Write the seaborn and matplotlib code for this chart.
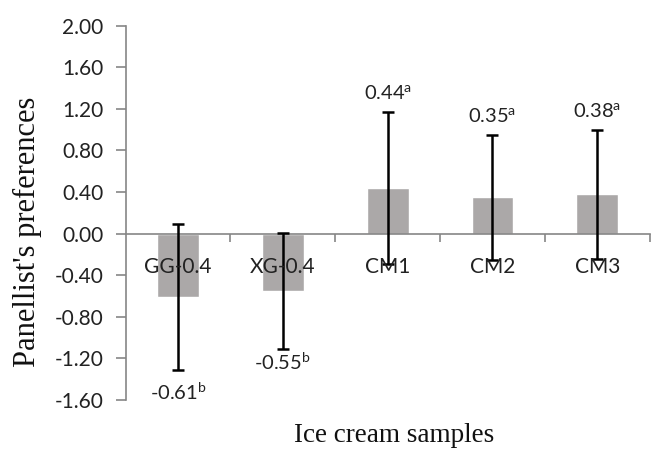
import numpy as np
import pandas as pd
import matplotlib
matplotlib.use("Agg")
import matplotlib.pyplot as plt
import seaborn as sns
from matplotlib.ticker import FixedLocator

# Data
samples = ["GG-0.4", "XG-0.4", "CM1", "CM2", "CM3"]
means = [-0.61, -0.55, 0.44, 0.35, 0.38]
errors = [0.70, 0.56, 0.73, 0.60, 0.62]
letters = ["b", "b", "a", "a", "a"]
y_ticks = [-1.6, -1.2, -0.8, -0.4, 0.0, 0.4, 0.8, 1.2, 1.6, 2.0]

df = pd.DataFrame({"sample": samples, "pref": means})

sns.set_style("white")
plt.rcParams["font.family"] = ["Lato", "DejaVu Sans"]
plt.rcParams["mathtext.fontset"] = "custom"
plt.rcParams["mathtext.rm"] = "Lato"

axis_grey = "#868686"
bar_grey = "#aba8a8"
text_col = "#222222"

fig = plt.figure(figsize=(6.51, 4.5), dpi=100)
ax = fig.add_axes([0.193, 0.111, 0.805, 0.832])

sns.barplot(data=df, x="sample", y="pref", color=bar_grey, saturation=1,
            width=0.4, errorbar=None, ax=ax, zorder=1)
xs = np.arange(len(samples))
ax.errorbar(xs, means, yerr=errors, fmt="none", ecolor="black",
            elinewidth=1.8, capsize=4, capthick=1.8, zorder=4)

# value labels with significance letters
label_offsets = [-16, -9, 13, 13, 13]  # points
for x, m, e, l, off in zip(xs, means, errors, letters, label_offsets):
    y = m + e if m > 0 else m - e
    ax.annotate(f"{m:.2f}$^{{\\mathrm{{{l}}}}}$", (x, y), xytext=(0, off),
                textcoords="offset points", ha="center", va="center",
                fontsize=14.5, color=text_col)

ax.set_ylim(-1.6, 2.0)
ax.set_xlim(-0.5, len(samples) - 0.5)
ax.set_yticks(y_ticks)
ax.set_yticklabels([f"{v:.2f}" for v in y_ticks])

# category axis crossing at zero, ticks between categories
ax.set_axisbelow(False)
ax.spines["bottom"].set_position(("data", 0))
ax.spines["top"].set_visible(False)
ax.spines["right"].set_visible(False)
for s in ["left", "bottom"]:
    ax.spines[s].set_color(axis_grey)
    ax.spines[s].set_linewidth(1.2)
    ax.spines[s].set_zorder(3)
ax.xaxis.set_zorder(5)
ax.xaxis.set_minor_locator(FixedLocator(np.arange(0.5, len(samples), 1.0)))
ax.tick_params(axis="x", which="major", bottom=True, length=0, pad=17,
               labelsize=15, labelcolor=text_col)
ax.tick_params(axis="x", which="minor", bottom=True, length=6, width=1.2,
               color=axis_grey, direction="out")
ax.tick_params(axis="y", left=True, length=7, width=1.2, color=axis_grey,
               direction="out", pad=9, labelsize=15, labelcolor=text_col)

ax.set_xlabel("")
ax.set_ylabel("Panellist's preferences", family="Liberation Serif",
              fontsize=22, color="#111111")
ax.yaxis.set_label_coords(-0.16, 0.45)
fig.text(0.606, 0.004, "Ice cream samples", family="Liberation Serif",
         fontsize=19.5, color="#111111", ha="center", va="bottom")

fig.savefig("out.png", dpi=100)
